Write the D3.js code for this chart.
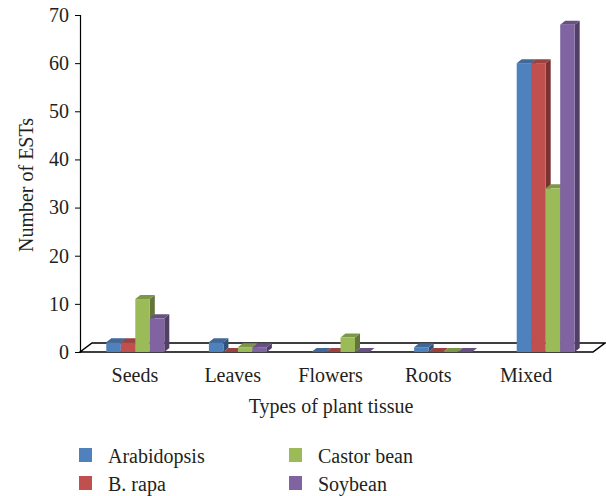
<!DOCTYPE html>
<html>
<head>
<meta charset="utf-8">
<script src="https://cdn.jsdelivr.net/npm/d3@7/dist/d3.min.js"></script>
<style>
    html, body { margin: 0; padding: 0; background: #fff; }
    svg text { font-family: "Liberation Serif", "DejaVu Serif", serif; fill: #231f20; }
</style>
</head>
<body>
<svg id="chart" width="606" height="496"></svg>
<script>
// 数据
var tissues = ["Seeds", "Leaves", "Flowers", "Roots", "Mixed"];
var species = ["Arabidopsis", "B. rapa", "Castor bean", "Soybean"];
var arabidopsis = [2, 2, 0, 1, 60];
var bRapa = [2, 0, 0, 0, 60];
var castorBean = [11, 1, 3, 0, 34];
var soybean = [7, 1, 0, 0, 68];
var yTicks = [0, 10, 20, 30, 40, 50, 60, 70];

;(function (win) {

    "use strict";

    //配置
    var _config = {
        colors: ["#4f81bd", "#c0504d", "#9bbb59", "#8064a2"],
        depth: {dx: 5, dy: -4},
        floor: {dx: 12, dy: -9},
        fontSize: 20
    };

    var _tool = {
        // 平行四边形
        quad: function (pts) {
            return "M" + pts.map(function (p) { return p.join(","); }).join("L") + "Z";
        },

        drawChart: function () {
            var svg = d3.select("#chart");
            var series = [arabidopsis, bRapa, castorBean, soybean];
            var fs = _config.fontSize;

            var y = d3.scaleLinear().domain([0, 70]).range([352, 15]);
            // 柱子位置
            var x0 = d3.scaleBand().domain(tissues).range([84, 597]);
            var x1 = d3.scaleBand().domain(species).range([0, 58]);
            // 类别标签位置
            var xl = d3.scaleBand().domain(tissues).range([86, 575]);

            // 底面
            var f = _config.floor;
            svg.append("path")
                .attr("d", _tool.quad([[80, y(0)], [593, y(0)], [593 + f.dx, y(0) + f.dy], [80 + f.dx, y(0) + f.dy]]))
                .attr("fill", "#fff")
                .attr("stroke", "#000")
                .attr("stroke-width", 1.5);

            // y轴
            var yAxis = svg.append("g")
                .attr("transform", "translate(80,0)")
                .call(d3.axisLeft(y).tickValues(yTicks).tickSize(5).tickPadding(6));
            yAxis.select(".domain").attr("stroke", "#000").attr("stroke-width", 1.2);
            yAxis.selectAll(".tick line").attr("stroke", "#000");
            yAxis.selectAll("text")
                .attr("font-size", fs)
                .attr("font-family", "Liberation Serif")
                .attr("fill", "#231f20");

            // 柱子
            var d = _config.depth;
            tissues.forEach(function (t, i) {
                var gx = x0(t) + (x0.bandwidth() - 58) / 2;
                series.forEach(function (s, k) {
                    var c = d3.color(_config.colors[k]);
                    var xa = gx + x1(species[k]), xb = xa + x1.bandwidth();
                    var yt = y(s[i]), yb = y(0);
                    var g = svg.append("g").attr("class", "bar");
                    g.append("path")
                        .attr("d", _tool.quad([[xb, yt], [xb + d.dx, yt + d.dy], [xb + d.dx, yb + d.dy], [xb, yb]]))
                        .attr("fill", c.darker(1.3));
                    g.append("path")
                        .attr("d", _tool.quad([[xa, yt], [xb, yt], [xb + d.dx, yt + d.dy], [xa + d.dx, yt + d.dy]]))
                        .attr("fill", c.darker(0.6));
                    g.append("rect")
                        .attr("x", xa).attr("y", yt)
                        .attr("width", xb - xa).attr("height", yb - yt)
                        .attr("fill", c);
                });
            });

            // x类别标签
            svg.append("g").selectAll("text")
                .data(tissues)
                .enter()
                .append("text")
                .attr("x", function (t) { return xl(t) + xl.bandwidth() / 2; })
                .attr("y", 382)
                .attr("text-anchor", "middle")
                .attr("font-size", fs)
                .text(function (t) { return t; });

            svg.append("text")
                .attr("x", 331).attr("y", 413)
                .attr("text-anchor", "middle")
                .attr("font-size", fs)
                .text("Types of plant tissue");

            svg.append("text")
                .attr("transform", "translate(33,185) rotate(-90)")
                .attr("text-anchor", "middle")
                .attr("font-size", fs)
                .text("Number of ESTs");

            // 图例
            var legend = svg.append("g").selectAll("g")
                .data(species)
                .enter()
                .append("g")
                .attr("transform", function (s, k) {
                    return "translate(" + (k < 2 ? 79 : 289) + "," + (448 + (k % 2) * 28) + ")";
                });
            legend.append("rect")
                .attr("width", 13).attr("height", 14)
                .attr("fill", function (s, k) { return _config.colors[k]; });
            legend.append("text")
                .attr("x", 29).attr("y", 15)
                .attr("font-size", fs)
                .text(function (s) { return s; });
        }
    };

    _tool.drawChart();

})(window);
</script>
</body>
</html>
